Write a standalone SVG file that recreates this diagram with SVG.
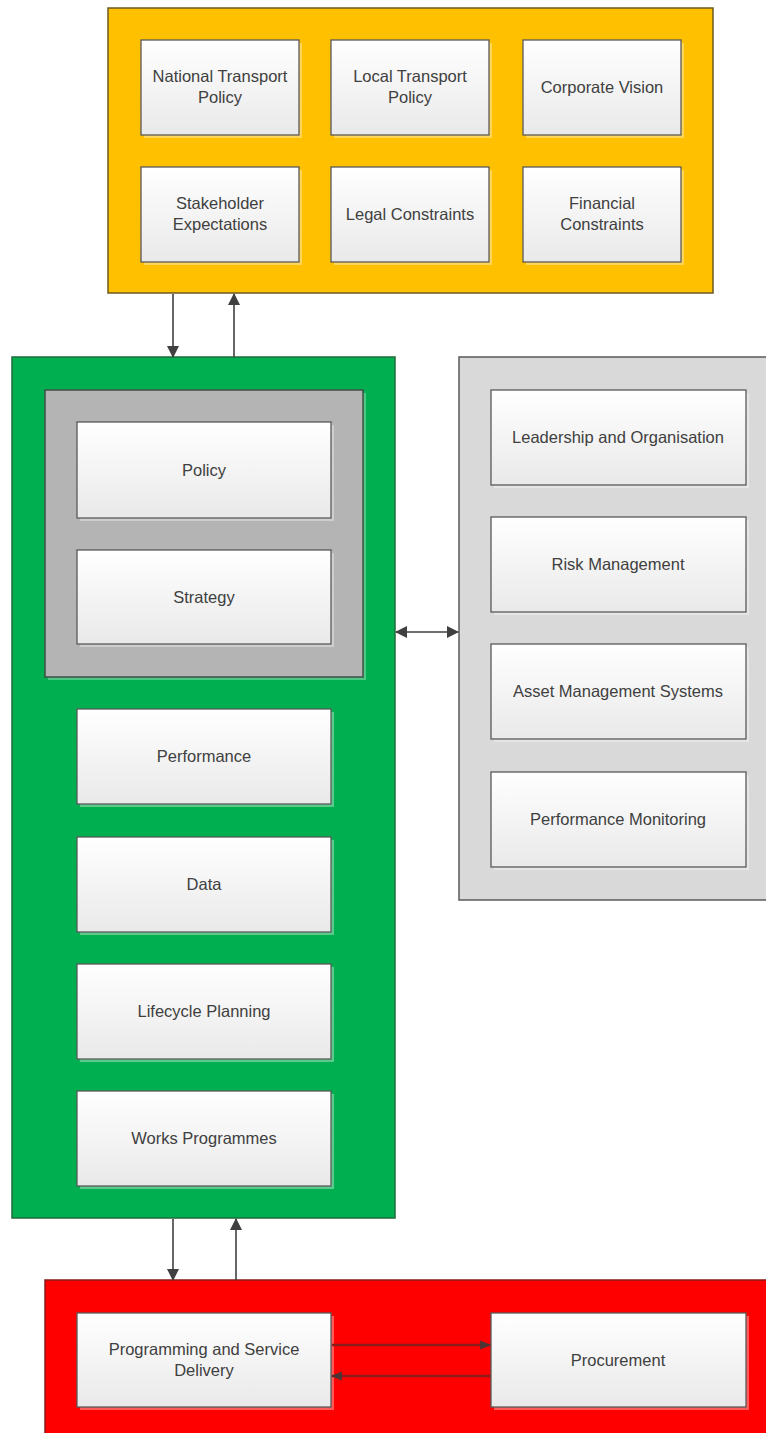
<svg xmlns="http://www.w3.org/2000/svg" width="766" height="1433" viewBox="0 0 766 1433">
  <style>
    .box { fill: url(#boxFill); stroke: #595959; stroke-width: 1.3; }
    .shadow { fill: #ffffff; opacity: 0.35; }
    .label { font-family: "Liberation Sans", Arial, sans-serif; font-size: 16.5px; fill: #404040; text-anchor: middle; }
    .link { stroke: #404040; stroke-width: 1.6; fill: none; }
    .inner-link { stroke: #8a1c1c; stroke-width: 2.6; fill: none; }
  </style>
  <defs>
    <linearGradient id="boxFill" x1="0" y1="0" x2="0" y2="1">
      <stop offset="0" stop-color="#ffffff"/>
      <stop offset="1" stop-color="#e9e9e9"/>
    </linearGradient>
    <marker id="arrow" markerUnits="userSpaceOnUse" markerWidth="12" markerHeight="12" viewBox="0 0 12 12" refX="11" refY="6" orient="auto-start-reverse">
      <path d="M0,0 L12,6 L0,12 Z" fill="#404040"/>
    </marker>
    <marker id="arrowSmall" markerUnits="userSpaceOnUse" markerWidth="11" markerHeight="11" viewBox="0 0 10 10" refX="9" refY="5" orient="auto">
      <path d="M0,1 L10,5 L0,9 Z" fill="#4a3535"/>
    </marker>
  </defs>

  <rect width="766" height="1433" fill="#ffffff"/>

  <!-- Context: policy and constraints -->
  <g id="context">
    <rect x="108" y="8" width="605" height="285" fill="#ffc000" stroke="#6b5a1e" stroke-width="1.5"/>
    <g id="national-transport-policy">
      <rect class="shadow" x="144" y="43" width="158" height="95"/>
      <rect class="box" x="141" y="40" width="158" height="95"/>
      <text class="label" x="220" y="82">National Transport</text>
      <text class="label" x="220" y="103">Policy</text>
    </g>
    <g id="local-transport-policy">
      <rect class="shadow" x="334" y="43" width="158" height="95"/>
      <rect class="box" x="331" y="40" width="158" height="95"/>
      <text class="label" x="410" y="82">Local Transport</text>
      <text class="label" x="410" y="103">Policy</text>
    </g>
    <g id="corporate-vision">
      <rect class="shadow" x="526" y="43" width="158" height="95"/>
      <rect class="box" x="523" y="40" width="158" height="95"/>
      <text class="label" x="602" y="93">Corporate Vision</text>
    </g>
    <g id="stakeholder-expectations">
      <rect class="shadow" x="144" y="170" width="158" height="95"/>
      <rect class="box" x="141" y="167" width="158" height="95"/>
      <text class="label" x="220" y="209">Stakeholder</text>
      <text class="label" x="220" y="230">Expectations</text>
    </g>
    <g id="legal-constraints">
      <rect class="shadow" x="334" y="170" width="158" height="95"/>
      <rect class="box" x="331" y="167" width="158" height="95"/>
      <text class="label" x="410" y="220">Legal Constraints</text>
    </g>
    <g id="financial-constraints">
      <rect class="shadow" x="526" y="170" width="158" height="95"/>
      <rect class="box" x="523" y="167" width="158" height="95"/>
      <text class="label" x="602" y="209">Financial</text>
      <text class="label" x="602" y="230">Constraints</text>
    </g>
  </g>

  <!-- Asset management framework -->
  <g id="framework">
    <rect x="12" y="357" width="383" height="861" fill="#00b050" stroke="#1e6b3a" stroke-width="1.5"/>
    <g id="policy-strategy">
      <rect x="48" y="393" width="318" height="287" fill="#ffffff" opacity="0.3"/>
      <rect x="45" y="390" width="318" height="287" fill="#b4b4b4" stroke="#3f4f44" stroke-width="1.5"/>
      <g id="policy">
        <rect class="shadow" x="80" y="425" width="254" height="96"/>
        <rect class="box" x="77" y="422" width="254" height="96"/>
        <text class="label" x="204" y="476">Policy</text>
      </g>
      <g id="strategy">
        <rect class="shadow" x="80" y="553" width="254" height="94"/>
        <rect class="box" x="77" y="550" width="254" height="94"/>
        <text class="label" x="204" y="603">Strategy</text>
      </g>
    </g>
    <g id="performance">
      <rect class="shadow" x="80" y="712" width="254" height="95"/>
      <rect class="box" x="77" y="709" width="254" height="95"/>
      <text class="label" x="204" y="762">Performance</text>
    </g>
    <g id="data">
      <rect class="shadow" x="80" y="840" width="254" height="95"/>
      <rect class="box" x="77" y="837" width="254" height="95"/>
      <text class="label" x="204" y="890">Data</text>
    </g>
    <g id="lifecycle-planning">
      <rect class="shadow" x="80" y="967" width="254" height="95"/>
      <rect class="box" x="77" y="964" width="254" height="95"/>
      <text class="label" x="204" y="1017">Lifecycle Planning</text>
    </g>
    <g id="works-programmes">
      <rect class="shadow" x="80" y="1094" width="254" height="95"/>
      <rect class="box" x="77" y="1091" width="254" height="95"/>
      <text class="label" x="204" y="1144">Works Programmes</text>
    </g>
  </g>

  <!-- Enablers -->
  <g id="enablers">
    <rect x="459" y="357" width="312" height="543" fill="#d9d9d9" stroke="#5a5a5a" stroke-width="1.5"/>
    <g id="leadership-and-organisation">
      <rect class="shadow" x="494" y="393" width="255" height="95"/>
      <rect class="box" x="491" y="390" width="255" height="95"/>
      <text class="label" x="618" y="443">Leadership and Organisation</text>
    </g>
    <g id="risk-management">
      <rect class="shadow" x="494" y="520" width="255" height="95"/>
      <rect class="box" x="491" y="517" width="255" height="95"/>
      <text class="label" x="618" y="570">Risk Management</text>
    </g>
    <g id="asset-management-systems">
      <rect class="shadow" x="494" y="647" width="255" height="95"/>
      <rect class="box" x="491" y="644" width="255" height="95"/>
      <text class="label" x="618" y="697">Asset Management Systems</text>
    </g>
    <g id="performance-monitoring">
      <rect class="shadow" x="494" y="775" width="255" height="95"/>
      <rect class="box" x="491" y="772" width="255" height="95"/>
      <text class="label" x="618" y="825">Performance Monitoring</text>
    </g>
  </g>

  <!-- Delivery -->
  <g id="delivery">
    <rect x="45" y="1280" width="726" height="160" fill="#ff0000" stroke="#8a1a1a" stroke-width="1.5"/>
    <g id="programming-and-service-delivery">
      <rect class="shadow" x="80" y="1316" width="254" height="94"/>
      <rect class="box" x="77" y="1313" width="254" height="94"/>
      <text class="label" x="204" y="1355">Programming and Service</text>
      <text class="label" x="204" y="1376">Delivery</text>
    </g>
    <g id="procurement">
      <rect class="shadow" x="494" y="1316" width="255" height="94"/>
      <rect class="box" x="491" y="1313" width="255" height="94"/>
      <text class="label" x="618" y="1366">Procurement</text>
    </g>
  </g>

  <!-- Connectors -->
  <g id="connectors">
    <line class="link" x1="173" y1="294" x2="173" y2="357" marker-end="url(#arrow)"/>
    <line class="link" x1="234" y1="357" x2="234" y2="294" marker-end="url(#arrow)"/>
    <line class="link" x1="396" y1="632" x2="458" y2="632" marker-start="url(#arrow)" marker-end="url(#arrow)"/>
    <line class="link" x1="173" y1="1219" x2="173" y2="1280" marker-end="url(#arrow)"/>
    <line class="link" x1="236" y1="1280" x2="236" y2="1219" marker-end="url(#arrow)"/>
    <line class="inner-link" x1="332" y1="1345" x2="490" y2="1345" marker-end="url(#arrowSmall)"/>
    <line class="inner-link" x1="490" y1="1376" x2="332" y2="1376" marker-end="url(#arrowSmall)"/>
  </g>
</svg>
